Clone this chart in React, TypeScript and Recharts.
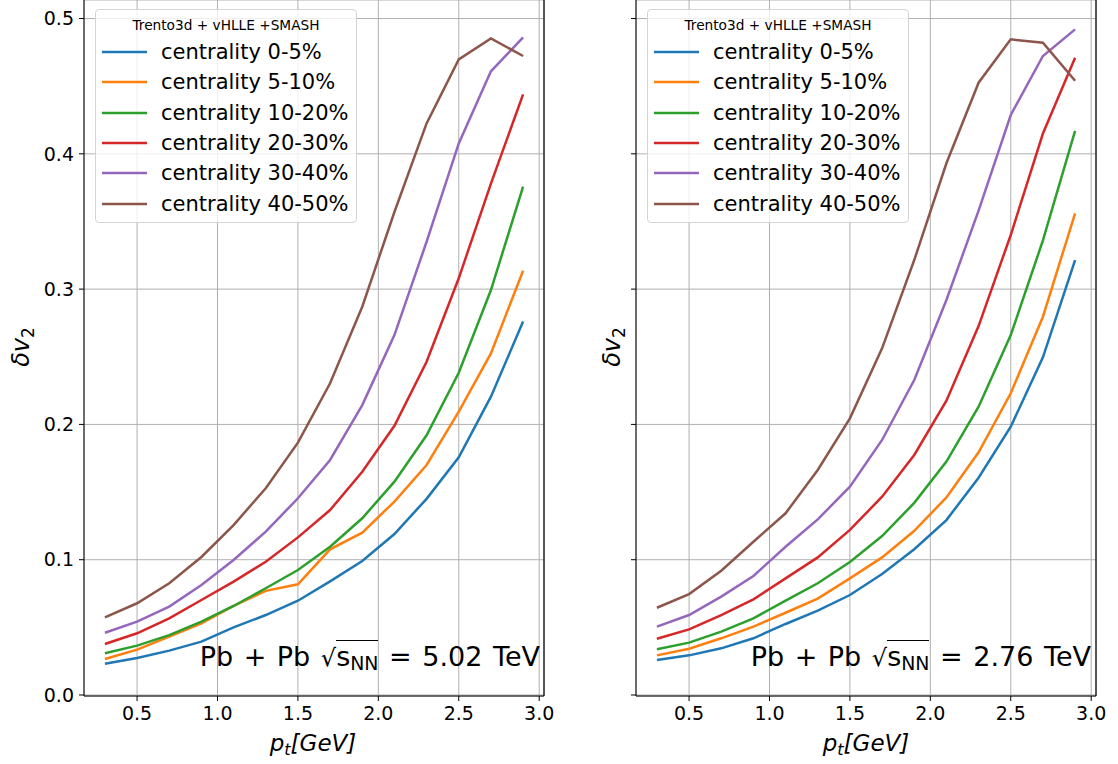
import React from "react";
import { LineChart, Line, XAxis, YAxis, CartesianGrid, Legend, ReferenceLine } from "recharts";

const pt = [0.3, 0.5, 0.7, 0.9, 1.1, 1.3, 1.5, 1.7, 1.9, 2.1, 2.3, 2.5, 2.7, 2.9];
const xTicks = [0.5, 1.0, 1.5, 2.0, 2.5, 3.0];
const yTicks = [0.0, 0.1, 0.2, 0.3, 0.4, 0.5];

const names = [
  "centrality 0-5%",
  "centrality 5-10%",
  "centrality 10-20%",
  "centrality 20-30%",
  "centrality 30-40%",
  "centrality 40-50%",
];
const keys = ["c0_5", "c5_10", "c10_20", "c20_30", "c30_40", "c40_50"];
const colors = ["#1f77b4", "#ff7f0e", "#2ca02c", "#d62728", "#9467bd", "#8c564b"];

// Pb+Pb 5.02 TeV
const tev502_c0_5 = [0.0231, 0.0273, 0.0328, 0.0394, 0.05, 0.0591, 0.0697, 0.084, 0.099, 0.119, 0.145, 0.1757, 0.2205, 0.276];
const tev502_c5_10 = [0.0266, 0.0335, 0.0431, 0.053, 0.0658, 0.077, 0.0818, 0.1077, 0.12, 0.143, 0.17, 0.2094, 0.2525, 0.3136];
const tev502_c10_20 = [0.0308, 0.0365, 0.0443, 0.0542, 0.0658, 0.0789, 0.0924, 0.1096, 0.1306, 0.1577, 0.192, 0.2382, 0.2993, 0.3757];
const tev502_c20_30 = [0.0377, 0.0456, 0.0567, 0.0702, 0.0838, 0.0985, 0.1165, 0.1367, 0.165, 0.199, 0.2463, 0.308, 0.378, 0.444];
const tev502_c30_40 = [0.046, 0.0542, 0.0653, 0.0813, 0.0998, 0.1207, 0.1454, 0.1737, 0.2143, 0.266, 0.335, 0.4077, 0.461, 0.486];
const tev502_c40_50 = [0.0574, 0.0678, 0.0826, 0.102, 0.1256, 0.1528, 0.1865, 0.2304, 0.287, 0.357, 0.4225, 0.4698, 0.4853, 0.4723];

// Pb+Pb 2.76 TeV
const tev276_c0_5 = [0.0259, 0.0293, 0.0345, 0.0419, 0.0525, 0.0623, 0.0739, 0.0894, 0.1077, 0.1293, 0.1606, 0.1983, 0.2496, 0.3215];
const tev276_c5_10 = [0.0293, 0.0342, 0.0419, 0.0505, 0.0608, 0.0712, 0.0862, 0.1017, 0.1214, 0.146, 0.1794, 0.223, 0.2796, 0.356];
const tev276_c10_20 = [0.0338, 0.0387, 0.0468, 0.0567, 0.0697, 0.0826, 0.0983, 0.1175, 0.142, 0.1725, 0.2131, 0.266, 0.336, 0.417];
const tev276_c20_30 = [0.0416, 0.0485, 0.0591, 0.0707, 0.0862, 0.1017, 0.122, 0.1466, 0.1774, 0.2175, 0.2727, 0.34, 0.415, 0.471];
const tev276_c30_40 = [0.0505, 0.0591, 0.0727, 0.088, 0.1096, 0.1298, 0.154, 0.1885, 0.2328, 0.292, 0.358, 0.4287, 0.4723, 0.492];
const tev276_c40_50 = [0.0645, 0.0746, 0.0919, 0.1133, 0.1343, 0.1663, 0.2045, 0.2562, 0.3215, 0.393, 0.4526, 0.4846, 0.4821, 0.454];

const FONT = "'DejaVu Sans', sans-serif";
const LINE_W = 2.5;

const buildRows = (series: number[][]) =>
  pt.map((x, i) => {
    const row: Record<string, number> = { pt: x };
    keys.forEach((k, j) => {
      row[k] = series[j][i];
    });
    return row;
  });

const data502 = buildRows([tev502_c0_5, tev502_c5_10, tev502_c10_20, tev502_c20_30, tev502_c30_40, tev502_c40_50]);
const data276 = buildRows([tev276_c0_5, tev276_c5_10, tev276_c10_20, tev276_c20_30, tev276_c30_40, tev276_c40_50]);

// keep the plotting order (recharts sorts the payload by name)
const LegendBox = () => (
  <div
    style={{
      position: "relative",
      width: 262,
      height: 214,
      boxSizing: "border-box",
      border: "1px solid #d4d4d4",
      borderRadius: 4,
      background: "rgba(255,255,255,0.8)",
      fontFamily: FONT,
      color: "#000",
    }}
  >
    <div style={{ position: "absolute", left: 0, right: 0, top: 7, textAlign: "center", fontSize: 13.7, lineHeight: "16px" }}>
      Trento3d + vHLLE +SMASH
    </div>
    {names.map((n, i) => (
      <div
        key={n}
        style={{ position: "absolute", left: 6, top: 27 + i * 30.3, height: 30, display: "flex", alignItems: "center", whiteSpace: "nowrap" }}
      >
        <svg width={45} height={6} style={{ display: "block" }}>
          <line x1={0} y1={3} x2={45} y2={3} stroke={colors[i]} strokeWidth={LINE_W} />
        </svg>
        <span style={{ marginLeft: 14, fontSize: 21, lineHeight: "30px" }}>{n}</span>
      </div>
    ))}
  </div>
);

interface PanelProps {
  data: Record<string, number>[];
  left: number;
  width: number;
  marginLeft: number;
  marginRight: number;
  showYLabels: boolean;
  yTitleX: number;
  xTitleX: number;
  legendLeft: number;
}

const Panel = ({ data, left, width, marginLeft, marginRight, showYLabels, yTitleX, xTitleX, legendLeft }: PanelProps) => (
  <div style={{ position: "absolute", left, top: 0 }}>
    <LineChart width={width} height={764} data={data} margin={{ top: 0, right: marginRight, bottom: 0, left: marginLeft }}>
      <CartesianGrid stroke="#b0b0b0" strokeWidth={1} />
      <XAxis
        dataKey="pt"
        type="number"
        domain={[0.17, 3.03]}
        allowDataOverflow
        ticks={xTicks}
        tickFormatter={(v: number) => v.toFixed(1)}
        height={68}
        tickSize={5}
        tickMargin={6}
        stroke="#000"
        tick={{ fill: "#000", fontSize: 19, fontFamily: FONT }}
        label={() => (
          <text x={xTitleX} y={751} textAnchor="middle" fontFamily={FONT} fontSize={23} fontStyle="italic" fill="#000">
            p<tspan fontSize={16} dy={4}>t</tspan>
            <tspan dy={-4}>[GeV]</tspan>
          </text>
        )}
      />
      <YAxis
        type="number"
        domain={[-0.00074, 0.5137]}
        allowDataOverflow
        ticks={yTicks}
        tickFormatter={(v: number) => (showYLabels ? v.toFixed(1) : "")}
        width={60}
        tickSize={5}
        tickMargin={5}
        stroke="#000"
        tick={{ fill: "#000", fontSize: 19, fontFamily: FONT }}
        label={() => (
          <text
            x={yTitleX}
            y={347}
            transform={`rotate(-90 ${yTitleX} 347)`}
            textAnchor="middle"
            fontFamily={FONT}
            fontSize={24}
            fill="#000"
          >
            <tspan fontStyle="italic">δv</tspan>
            <tspan fontSize={17} dy={5}>2</tspan>
          </text>
        )}
      />
      <ReferenceLine x={3.03} stroke="#000" strokeWidth={1.2} />
      <Legend
        layout="vertical"
        align="center"
        verticalAlign="middle"
        wrapperStyle={{ left: legendLeft, top: 9, width: 262 }}
        content={<LegendBox />}
      />
      {keys.map((k, i) => (
        <Line
          key={k}
          type="linear"
          dataKey={k}
          name={names[i]}
          stroke={colors[i]}
          strokeWidth={LINE_W}
          dot={false}
          isAnimationActive={false}
        />
      ))}
    </LineChart>
  </div>
);

const Energy = ({ right, value }: { right: number; value: string }) => (
  <div
    style={{
      position: "absolute",
      right,
      top: 643,
      fontFamily: FONT,
      fontSize: 27,
      lineHeight: "27px",
      wordSpacing: 2,
      whiteSpace: "nowrap",
      color: "#000",
    }}
  >
    Pb + Pb <span style={{ fontSize: 24 }}>√</span>
    <span style={{ borderTop: "1.5px solid #000" }}>
      s<span style={{ fontSize: "0.7em", position: "relative", top: "0.22em" }}>NN</span>
    </span>{" "}
    = {value} TeV
  </div>
);

export default function App() {
  return (
    <div style={{ position: "fixed", left: 0, top: 0, width: 1118, height: 764, background: "#fff", overflow: "hidden" }}>
      <Panel data={data502} left={0} width={560} marginLeft={24} marginRight={16} showYLabels yTitleX={29} xTitleX={313} legendLeft={95} />
      <Panel data={data276} left={560} width={558} marginLeft={16} marginRight={22} showYLabels={false} yTitleX={60} xTitleX={306} legendLeft={87} />
      <Energy right={1118 - 540} value="5.02" />
      <Energy right={1118 - 1091} value="2.76" />
    </div>
  );
}
